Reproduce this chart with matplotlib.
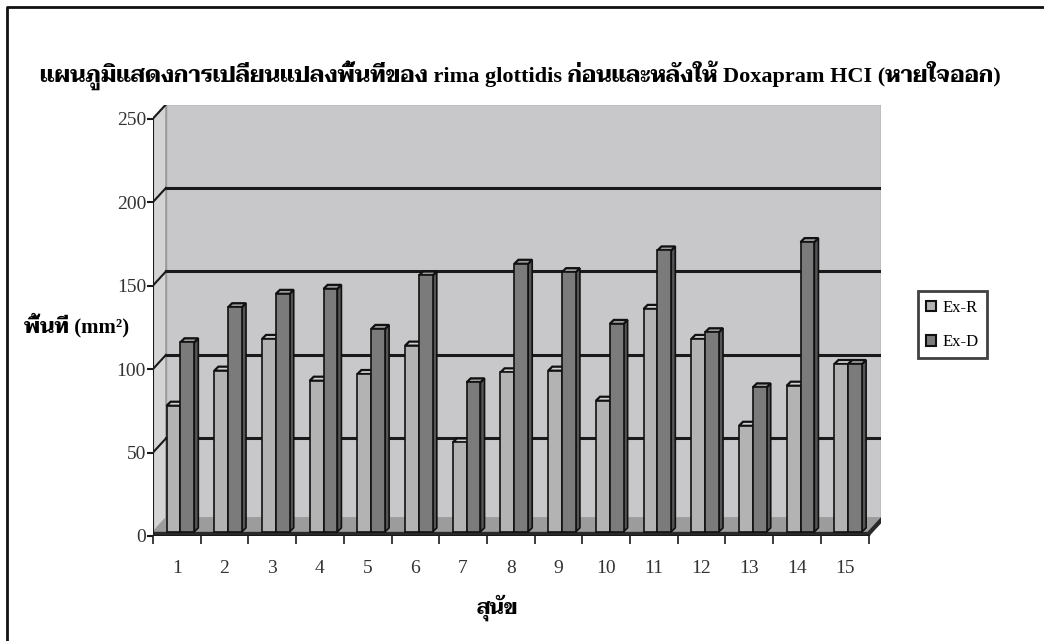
import matplotlib
matplotlib.use("Agg")
import matplotlib.pyplot as plt
from matplotlib.patches import Patch
from matplotlib.lines import Line2D

dogs = list(range(1, 16))
ex_r = [78, 99, 118, 93, 97, 114, 56, 98, 99, 81, 136, 118, 66, 90, 103]
ex_d = [116, 137, 145, 148, 124, 156, 92, 163, 158, 127, 171, 122, 89, 176, 103]
yticks = [0, 50, 100, 150, 200, 250]
series = ["Ex-R", "Ex-D"]

title = "แผนภูมิแสดงการเปลี่ยนแปลงพื้นที่ของ rima glottidis ก่อนและหลังให้ Doxapram HCI (หายใจออก)"
ylabel = "พื้นที่ (mm²)"
xlabel = "สุนัข"

serif = ["Liberation Serif", "Taviraj", "DejaVu Sans"]

front = {"Ex-R": "#b3b3b3", "Ex-D": "#7b7b7b"}
top = {"Ex-R": "#d2d2d2", "Ex-D": "#9a9a9a"}
side = {"Ex-R": "#8a8a8a", "Ex-D": "#555555"}

W, H = 1044, 641
fig = plt.figure(figsize=(W / 100, H / 100), dpi=100)
ax = fig.add_axes([153 / W, (H - 536) / H, 15.27 * 47.7 / W, 431.5 / H])

dx, dy = 0.27, 8.4      # wall depth
bdx, bdy = 0.085, 2.4   # bar depth
fl = 2.5                # floor thickness
x0, x1 = 0.5, 15.5
ymax = 250

ax.set_xlim(x0, x1 + dx)
ax.set_ylim(0, ymax + dy)
for s in ax.spines.values():
    s.set_visible(False)
ax.patch.set_alpha(0)

# back wall, side wall, floor
ax.fill([x0 + dx, x1 + dx, x1 + dx, x0 + dx], [dy, dy, ymax + dy, ymax + dy],
        color="#c8c8ca", ec="#9a9a9a", lw=1, zorder=0)
ax.fill([x0, x0 + dx, x0 + dx, x0], [0, dy, ymax + dy, ymax],
        color="#d4d4d4", ec="#9a9a9a", lw=1, zorder=0.5)
for v in yticks[1:-1]:
    ax.plot([x0 + dx, x1 + dx], [v + dy, v + dy], color="#1a1a1a", lw=2.2, zorder=1)
for v in yticks:
    ax.plot([x0, x0 + dx], [v, v + dy], color="#1a1a1a", lw=1.5, zorder=1)
ax.fill([x0, x1, x1 + dx, x0 + dx], [fl, fl, dy + fl, dy + fl], color="#9c9c9c", zorder=1.5)
ax.fill([x0, x1, x1, x0], [0, 0, fl, fl], color="#2a2a2a", zorder=1.6)
ax.fill([x1, x1 + dx, x1 + dx, x1], [0, dy, dy + fl, fl], color="#2a2a2a", zorder=1.6)
ax.plot([x0, x0], [0, ymax], color="#1a1a1a", lw=1.5, zorder=5)
ax.plot([x0, x1], [0, 0], color="#1a1a1a", lw=1.5, zorder=5)

# bars
w = 0.29
shift = {"Ex-R": -0.07, "Ex-D": 0.22}
for name, vals in zip(series, [ex_r, ex_d]):
    xs = [d + shift[name] for d in dogs]
    bars = ax.bar(xs, [v - fl for v in vals], width=w, bottom=fl, color=front[name],
                  edgecolor="#111111", linewidth=1.2, zorder=4)
    for b in bars:
        bx, by = b.get_x(), b.get_y()
        bw, bh = b.get_width(), b.get_y() + b.get_height()
        ax.fill([bx + bw, bx + bw + bdx, bx + bw + bdx, bx + bw],
                [by, by + bdy, bh + bdy, bh], color=side[name], ec="#111111", lw=1.2, zorder=3)
        ax.fill([bx, bx + bw, bx + bw + bdx, bx + bdx],
                [bh, bh, bh + bdy, bh + bdy], color=top[name], ec="#111111", lw=1.6, zorder=3)

# ticks
ax.set_yticks(yticks)
ax.set_yticklabels([str(v) for v in yticks], family=serif, fontsize=14, color="#333333")
ax.tick_params(axis="y", direction="out", length=4, width=1.5, pad=1, color="#1a1a1a")
ax.set_xticks(dogs)
ax.set_xticklabels([str(d) for d in dogs], family=serif, fontsize=14, color="#333333")
ax.set_xticks([i + 0.5 for i in range(0, 16)], minor=True)
ax.tick_params(axis="x", which="major", length=0, pad=17)
ax.tick_params(axis="x", which="minor", direction="out", length=6, width=1.2, color="#1a1a1a")

# texts
fig.text(520 / W, 1 - 75 / H, title, ha="center", va="center", family=serif,
         fontsize=16, fontweight="bold")
fig.text(77 / W, 1 - 325 / H, ylabel, ha="center", va="center", family=serif,
         fontsize=15, fontweight="bold")
fig.text(497 / W, 1 - 608 / H, xlabel, ha="center", va="center", family=serif,
         fontsize=15, fontweight="bold")

handles = [Patch(facecolor=front[s], edgecolor="#111111", linewidth=1.5) for s in series]
leg = fig.legend(handles, series, loc="center left", bbox_to_anchor=(918 / W, 1 - 325 / H),
                 prop={"family": serif, "size": 12}, frameon=True, fancybox=False,
                 edgecolor="#111111", handlelength=0.6, handleheight=0.6,
                 handletextpad=0.4, labelspacing=1.1, borderpad=0.5, borderaxespad=0)
leg.get_frame().set_linewidth(2)

# outer frame
fig.add_artist(Line2D([7 / W, 7 / W, 1], [0, 1 - 7 / H, 1 - 7 / H], color="#111111",
                      lw=2, transform=fig.transFigure))

fig.savefig("out.png", dpi=100, facecolor="white")
